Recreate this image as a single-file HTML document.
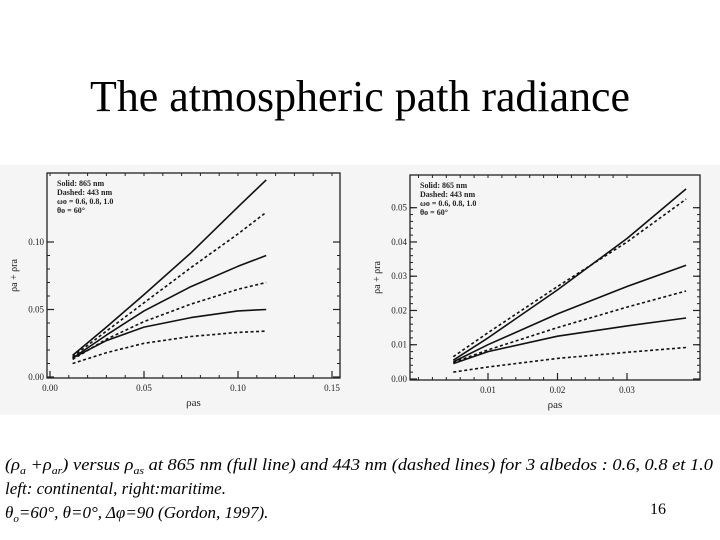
<!DOCTYPE html>
<html><head><meta charset="utf-8"><style>
html,body{margin:0;padding:0;background:#fff;}
svg{display:block;font-family:"Liberation Serif",serif;}
</style></head><body>
<svg id="s" width="720" height="540" viewBox="0 0 720 540">
<rect x="0" y="0" width="720" height="540" fill="#fff"/>
<text x="360" y="111" text-anchor="middle" font-size="44" textLength="540" lengthAdjust="spacingAndGlyphs" fill="#000">The atmospheric path radiance</text>
<rect x="0" y="165" width="720" height="250" fill="#f5f5f5"/>
<g id="left"></g>
<g id="right"></g>
<g font-style="italic" font-size="17" fill="#000">
<text x="5" y="470" textLength="708" lengthAdjust="spacingAndGlyphs">(ρ<tspan font-size="11" dy="4">a</tspan><tspan dy="-4"> +ρ</tspan><tspan font-size="11" dy="4">ar</tspan><tspan dy="-4">) versus  ρ</tspan><tspan font-size="11" dy="4">as</tspan><tspan dy="-4"> at 865 nm (full line) and 443 nm (dashed lines) for 3 albedos : 0.6, 0.8 et 1.0</tspan></text>
<text x="5" y="494">left: continental, right:maritime.</text>
<text x="5" y="518">θ<tspan font-size="11" dy="4">o</tspan><tspan dy="-4">=60°, θ=0°, Δφ=90 (Gordon, 1997).</tspan></text>
</g>
<text x="650" y="514" font-size="16">16</text>
</svg>
<script>
const NS="http://www.w3.org/2000/svg";
// Left chart data (continental)
const leftX=[0.012,0.03,0.05,0.075,0.1,0.115];
const leftSolid1=[0.016,0.037,0.061,0.092,0.126,0.146];
const leftDash1=[0.015,0.034,0.055,0.081,0.106,0.122];
const leftSolid2=[0.014,0.031,0.049,0.067,0.082,0.090];
const leftDash2=[0.013,0.028,0.041,0.054,0.065,0.070];
const leftSolid3=[0.014,0.027,0.037,0.044,0.049,0.050];
const leftDash3=[0.010,0.018,0.025,0.030,0.033,0.034];
const leftXTicks=["0.00","0.05","0.10","0.15"];
const leftYTicks=["0.00","0.05","0.10"];
// Right chart data (maritime)
const rightX=[0.005,0.01,0.02,0.03,0.0385];
const rightSolid1=[0.0055,0.012,0.026,0.041,0.0555];
const rightDash1=[0.0065,0.0135,0.027,0.040,0.0525];
const rightSolid2=[0.005,0.010,0.019,0.027,0.0332];
const rightDash2=[0.0048,0.0085,0.015,0.021,0.0257];
const rightSolid3=[0.0045,0.008,0.0125,0.0155,0.0178];
const rightDash3=[0.002,0.0035,0.006,0.0078,0.0092];
const rightXTicks=["0.01","0.02","0.03"];
const rightYTicks=["0.00","0.01","0.02","0.03","0.04","0.05"];

function el(t,a,p){const e=document.createElementNS(NS,t);for(const k in a)e.setAttribute(k,a[k]);p.appendChild(e);return e;}

function chart(g,cfg){
  const sx=v=>cfg.x0+(v-cfg.xmin)/(cfg.xmax-cfg.xmin)*(cfg.x1-cfg.x0);
  const sy=v=>cfg.y0-(v-cfg.ymin)/(cfg.ymax-cfg.ymin)*(cfg.y0-cfg.y1);
  const fr=el('rect',{x:cfg.fl,y:cfg.ft,width:cfg.fr-cfg.fl,height:cfg.fb-cfg.ft,fill:'none',stroke:'#222','stroke-width':1.3},g);
  
  
  cfg.xt.forEach(t=>{const x=sx(parseFloat(t));
    const l=el('line',{x1:x,x2:x,y1:cfg.fb,y2:cfg.fb-7,stroke:'#222','stroke-width':1.2},g);
    
    
    const tx=el('text',{x:x,y:cfg.fb+13,'font-size':9,'text-anchor':'middle',fill:'#222'},g);tx.textContent=t;
    
    
  });
  for(let v=cfg.xmin;v<=cfg.xmax+1e-9;v+=cfg.xminor){const x=sx(v);if(x<cfg.fl||x>cfg.fr)continue;
    el('line',{x1:x,x2:x,y1:cfg.fb,y2:cfg.fb-3,stroke:'#222'},g);el('line',{x1:x,x2:x,y1:cfg.ft,y2:cfg.ft+3,stroke:'#222'},g);}
  cfg.yt.forEach(t=>{const y=sy(parseFloat(t));
    const l=el('line',{x1:cfg.fl,x2:cfg.fl+7,y1:y,y2:y,stroke:'#222','stroke-width':1.2},g);
    
    
    el('line',{x1:cfg.fr,x2:cfg.fr-7,y1:y,y2:y,stroke:'#222','stroke-width':1.2},g);
    const tx=el('text',{x:cfg.fl-3,y:y+3,'font-size':9,'text-anchor':'end',fill:'#222'},g);tx.textContent=t;
    
    
  });
  for(let v=cfg.ymin;v<=cfg.ymax+1e-9;v+=cfg.yminor){const y=sy(v);if(y<cfg.ft)continue;
    el('line',{x1:cfg.fl,x2:cfg.fl+3,y1:y,y2:y,stroke:'#222'},g);el('line',{x1:cfg.fr,x2:cfg.fr-3,y1:y,y2:y,stroke:'#222'},g);}
  const xl=el('text',{x:(cfg.fl+cfg.fr)/2,y:cfg.fb+28,'font-size':11,'text-anchor':'middle',fill:'#222'},g);xl.textContent='ρas';
  
  
  const yx=cfg.fl-30,yy=(cfg.ft+cfg.fb)/2;
  const yl=el('text',{x:yx,y:yy,'font-size':10,'text-anchor':'middle',fill:'#222',transform:`rotate(-90 ${yx} ${yy})`},g);yl.textContent='ρa + ρra';
  
  
  const leg=['Solid:      865 nm','Dashed:   443 nm','ωo = 0.6, 0.8, 1.0','θo = 60°'];
  leg.forEach((s,i)=>{const t=el('text',{x:cfg.fl+10,y:cfg.ft+13+i*9,'font-size':8,'font-weight':'bold',fill:'#222','xml:space':'preserve'},g);t.textContent=s;
    
    });
  cfg.series.forEach((s,i)=>{
    const d=cfg.xs.map((v,j)=>(j?'L':'M')+sx(v).toFixed(1)+' '+sy(s.v[j]).toFixed(1)).join(' ');
    const p=el('path',{d:d,fill:'none',stroke:'#111','stroke-width':1.6,'stroke-linejoin':'round'},g);
    if(s.dash)p.setAttribute('stroke-dasharray','3 2.5');
    
    
  });
}
chart(document.getElementById('left'),{fl:47,fr:340,ft:173,fb:378,x0:50,x1:332,xmin:0,xmax:0.15,y0:377,y1:242,ymin:0,ymax:0.10,
  xminor:0.01,yminor:0.01,xt:leftXTicks,yt:leftYTicks,xs:leftX,series:[
  {v:leftSolid1,name:'solid-865-albedo-1.0'},{v:leftDash1,dash:1,name:'dashed-443-albedo-1.0'},
  {v:leftSolid2,name:'solid-865-albedo-0.8'},{v:leftDash2,dash:1,name:'dashed-443-albedo-0.8'},
  {v:leftSolid3,name:'solid-865-albedo-0.6'},{v:leftDash3,dash:1,name:'dashed-443-albedo-0.6'}]});
chart(document.getElementById('right'),{fl:410,fr:700,ft:175,fb:380,x0:418.5,x1:627,xmin:0,xmax:0.03,y0:379,y1:207.7,ymin:0,ymax:0.05,
  xminor:0.002,yminor:0.002,xt:rightXTicks,yt:rightYTicks,xs:rightX,series:[
  {v:rightSolid1,name:'solid-865-albedo-1.0'},{v:rightDash1,dash:1,name:'dashed-443-albedo-1.0'},
  {v:rightSolid2,name:'solid-865-albedo-0.8'},{v:rightDash2,dash:1,name:'dashed-443-albedo-0.8'},
  {v:rightSolid3,name:'solid-865-albedo-0.6'},{v:rightDash3,dash:1,name:'dashed-443-albedo-0.6'}]});
</script>
</body></html>
